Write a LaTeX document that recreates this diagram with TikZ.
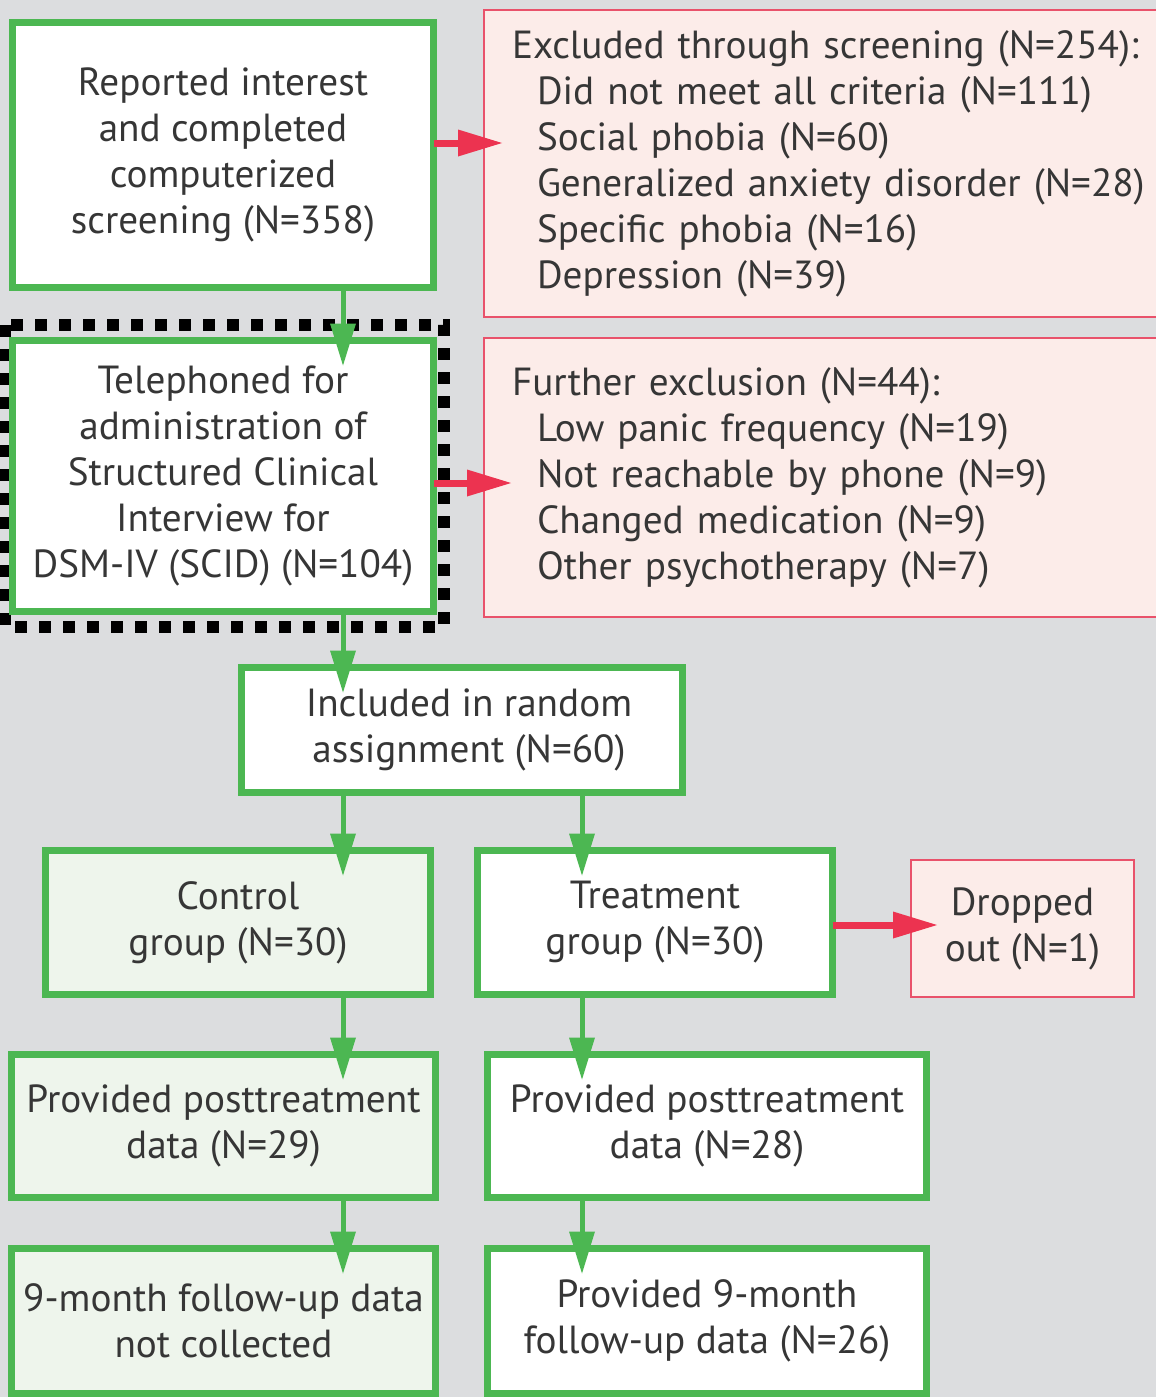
\documentclass[tikz,border=0pt]{standalone}
\usepackage{fontspec}
\setmainfont{PT Sans}
\usetikzlibrary{arrows.meta,calc}
\definecolor{bgc}{HTML}{DCDDDF}
\definecolor{grn}{HTML}{4CB752}
\definecolor{lgrn}{HTML}{EEF5EC}
\definecolor{pnk}{HTML}{FCECE9}
\definecolor{rbd}{HTML}{E9526B}
\definecolor{rar}{HTML}{EC3350}
\definecolor{txt}{HTML}{363636}
\begin{document}
\begin{tikzpicture}[x=0.5pt,y=-0.5pt,
  base/.style={outer sep=0pt, inner sep=0pt, text=txt,
    font=\fontsize{19.6pt}{23pt}\selectfont},
  gbox/.style={base, draw=grn, line width=3.5pt, fill=white, align=center},
  lgbox/.style={gbox, fill=lgrn},
  rbox/.style={base, draw=rbd, line width=1.25pt, fill=pnk},
  rlist/.style={rbox, align=left, inner xsep=14pt, text width=330pt, minimum width=358pt},
  garrow/.style={draw=grn, line width=2.5pt, -{Triangle[length=21pt,width=13pt,line width=0pt]}},
  rarrow/.style={draw=rar, line width=3.5pt, -{Triangle[length=22pt,width=13.5pt,line width=0pt]}},
  dotbox/.style={draw=black, line width=5.75pt, dash pattern=on 6pt off 6pt}
]
\fill[bgc] (0,0) rectangle (1156,1397);
\useasboundingbox (0,0) rectangle (1156,1397);
\coordinate (xl) at (343,0);
\coordinate (xr) at (582,0);

\draw[dotbox] (5,325) rectangle (444,627);

\node[gbox, minimum width=210.5pt, minimum height=132.5pt] (A) at (223,155)
  {Reported interest\\and completed\\computerized\\screening (N=358)};
\node[gbox, minimum width=210.5pt, minimum height=135.5pt] (B) at (223,476)
  {Telephoned for\\administration of\\Structured Clinical\\Interview for\\DSM-IV (SCID) (N=104)};
\node[rlist, minimum height=153.5pt] (R1) at (842,163.5)
  {Excluded through screening (N=254):\\
   \hspace*{12.5pt}Did not meet all criteria (N=111)\\
   \hspace*{12.5pt}Social phobia (N=60)\\
   \hspace*{12.5pt}Generalized anxiety disorder (N=28)\\
   \hspace*{12.5pt}Specific phobia (N=16)\\
   \hspace*{12.5pt}Depression (N=39)};
\node[rlist, minimum height=139.5pt] (R2) at (842,477.5)
  {Further exclusion (N=44):\\
   \hspace*{12.5pt}Low panic frequency (N=19)\\
   \hspace*{12.5pt}Not reachable by phone (N=9)\\
   \hspace*{12.5pt}Changed medication (N=9)\\
   \hspace*{12.5pt}Other psychotherapy (N=7)};
\node[gbox, minimum width=220.5pt, minimum height=62.5pt] (C) at (461.5,730)
  {\hspace*{7.5pt}Included in random\\\hspace*{7.5pt}assignment (N=60)};
\node[lgbox, minimum width=192.5pt, minimum height=72pt] (D) at (238,922.5)
  {Control\\group (N=30)};
\node[gbox, minimum width=177.5pt, minimum height=72pt] (E) at (655,922.5)
  {Treatment\\group (N=30)};
\node[rbox, align=center, minimum width=111.5pt, minimum height=68.5pt] (F) at (1022.5,928.5)
  {Dropped\\out (N=1)};
\node[lgbox, minimum width=212pt, minimum height=71.5pt] (G) at (223.5,1126)
  {Provided posttreatment\\data (N=29)};
\node[gbox, minimum width=219.5pt, minimum height=71.5pt] (H) at (707,1126)
  {Provided posttreatment\\data (N=28)};
\node[lgbox, minimum width=212pt, minimum height=72.5pt] (I) at (223.5,1321)
  {9-month follow-up data\\not collected};
\node[gbox, minimum width=219.5pt, minimum height=72.5pt] (J) at (707,1321)
  {Provided 9-month\\follow-up data (N=26)};

\draw[garrow] (A.south -| xl) -- ($(B.north -| xl)+(0,25)$);
\draw[garrow] (B.south -| xl) -- ($(C.north -| xl)+(0,25)$);
\draw[garrow] (C.south -| xl) -- ($(D.north -| xl)+(0,25)$);
\draw[garrow] (C.south -| xr) -- ($(E.north -| xr)+(0,25)$);
\draw[garrow] (D.south -| xl) -- ($(G.north -| xl)+(0,25)$);
\draw[garrow] (E.south -| xr) -- ($(H.north -| xr)+(0,25)$);
\draw[garrow] (G.south -| xl) -- ($(I.north -| xl)+(0,25)$);
\draw[garrow] (H.south -| xr) -- ($(J.north -| xr)+(0,25)$);

\draw[rarrow] ($(A.east)+(0,-12)$) -- ($(R1.west |- A.east)+(18,-12)$);
\draw[rarrow] ($(B.east)+(0,7)$) -- ($(R2.west |- B.east)+(27,7)$);
\draw[rarrow] ($(E.east)+(0,2.5)$) -- ($(F.west |- E.east)+(26,2.5)$);
\end{tikzpicture}
\end{document}
